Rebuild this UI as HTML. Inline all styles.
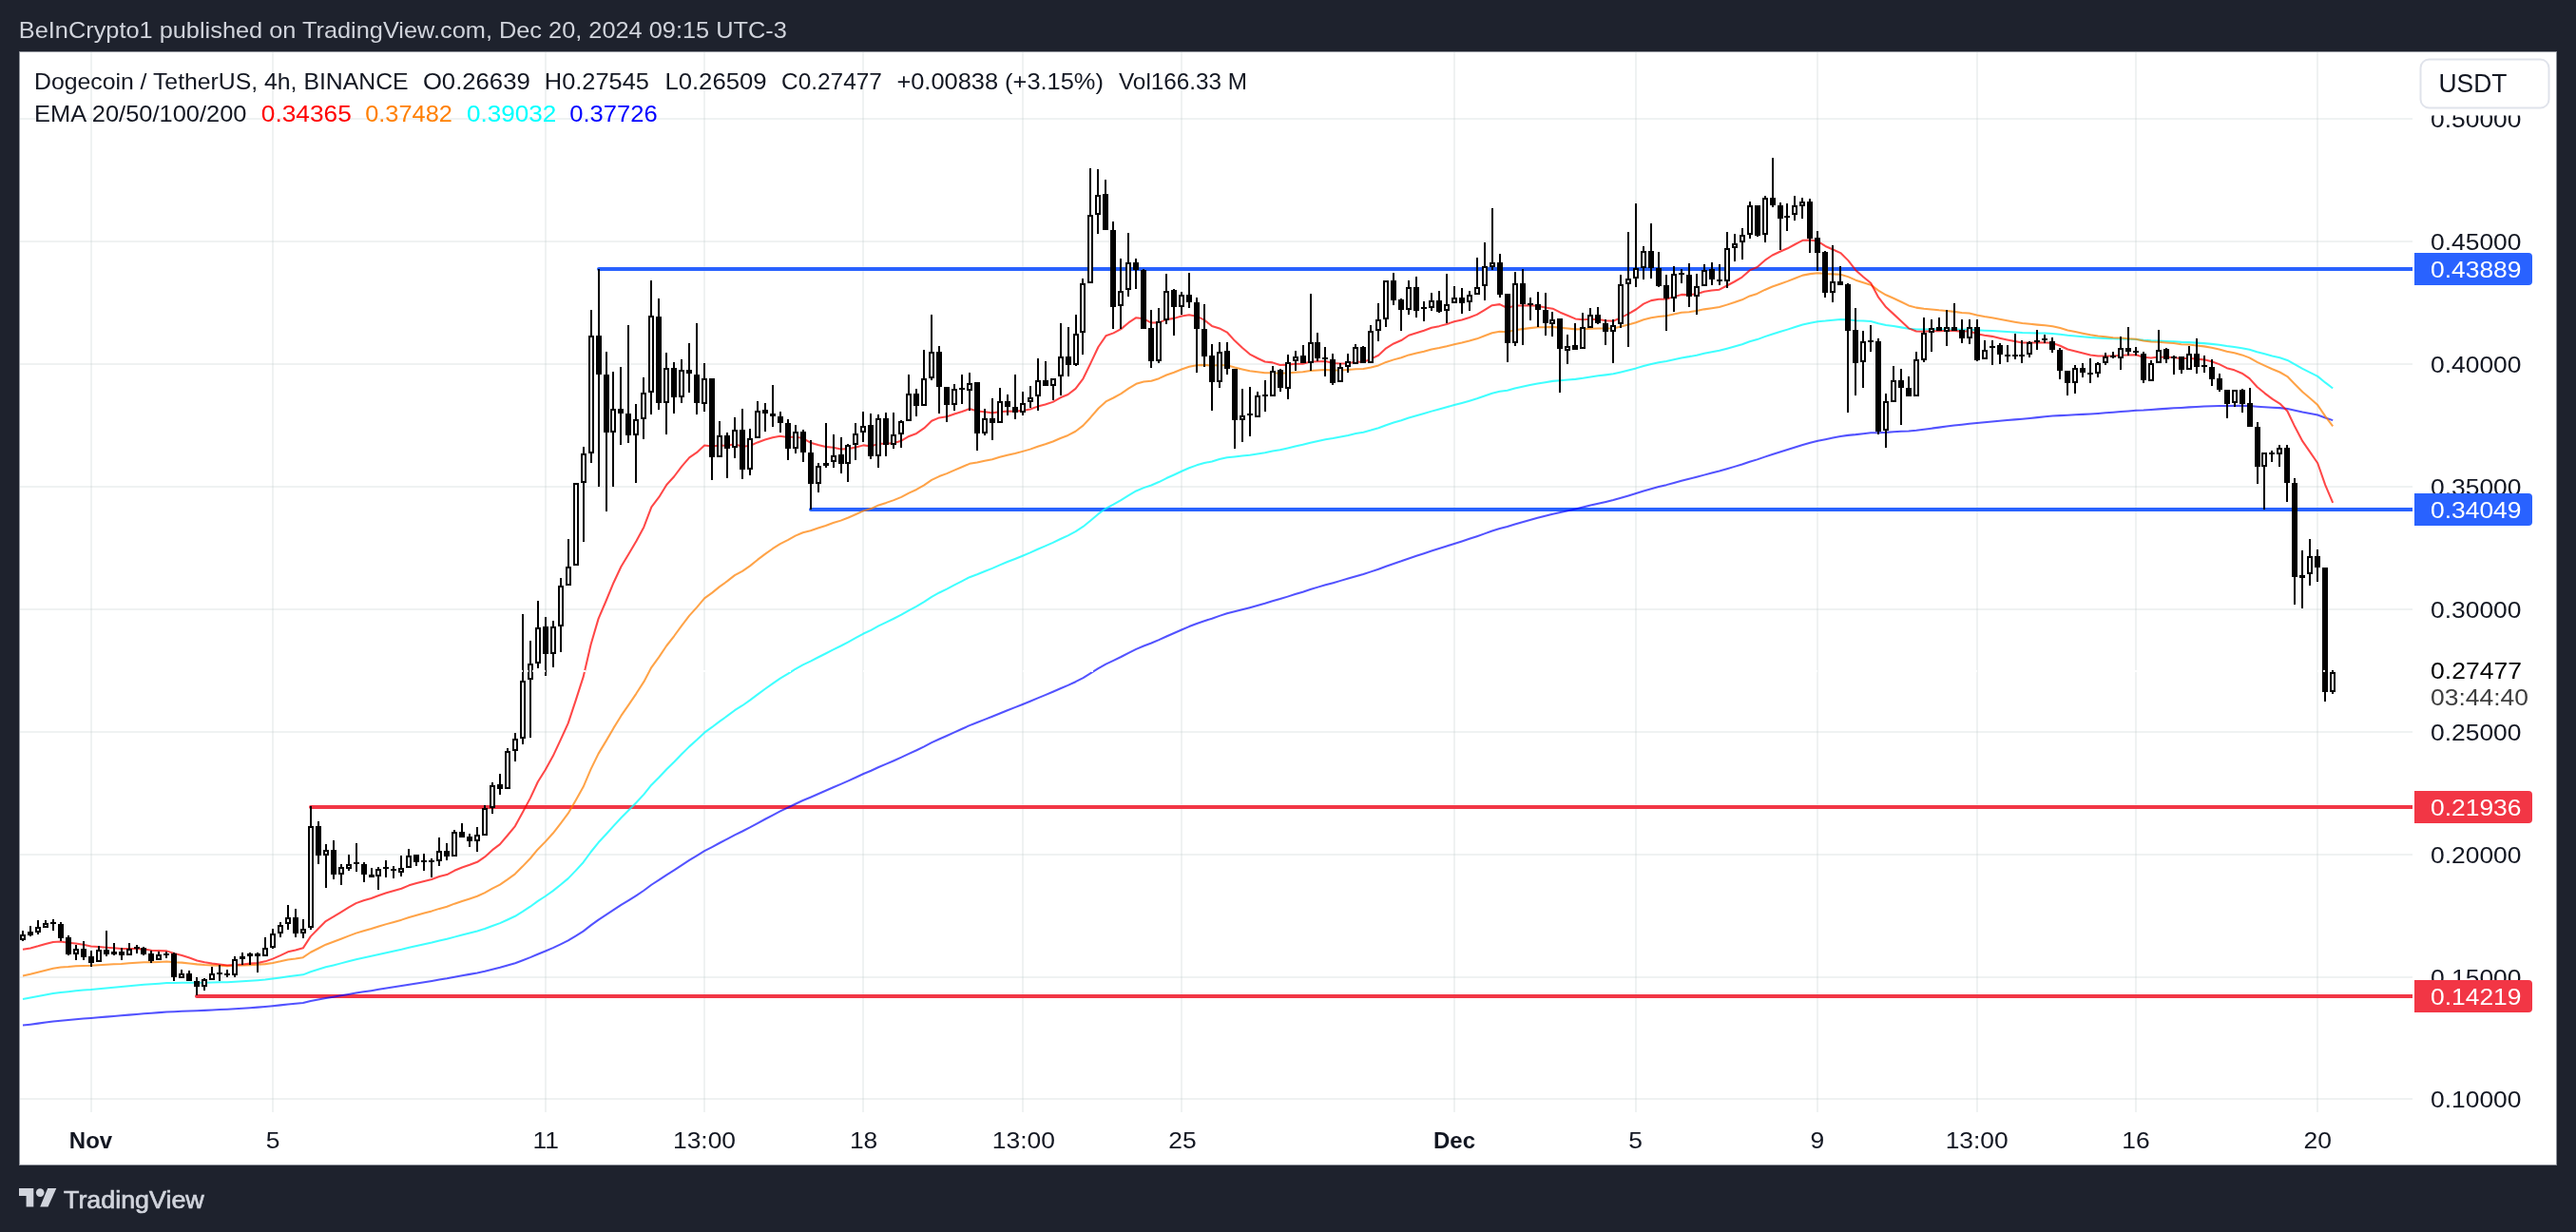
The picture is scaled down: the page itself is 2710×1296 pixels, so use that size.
<!DOCTYPE html><html><head><meta charset="utf-8"><style>html,body{margin:0;padding:0;background:#1e222d;}body{width:2710px;height:1296px;overflow:hidden;}svg{display:block;font-family:"Liberation Sans", sans-serif;will-change:transform;}</style></head><body>
<svg width="2710" height="1296" viewBox="0 0 2710 1296">
<rect x="0" y="0" width="2710" height="1296" fill="#1e222d"/>
<rect x="20" y="54" width="2670" height="1172" fill="#8f939b"/>
<rect x="21" y="55" width="2668" height="1170" fill="#ffffff"/>
<path d="M96 55V1170M287 55V1170M574 55V1170M741 55V1170M908 55V1170M1076 55V1170M1243 55V1170M1530 55V1170M1721 55V1170M1912 55V1170M2080 55V1170M2247 55V1170M2438 55V1170" stroke="rgba(195,205,205,0.26)" stroke-width="2" fill="none"/>
<path d="M21 125H2538M21 254H2538M21 383H2538M21 512H2538M21 641H2538M21 770H2538M21 899H2538M21 1028H2538M21 1156H2538" stroke="rgba(195,205,205,0.26)" stroke-width="2" fill="none"/>
<rect x="630" y="281" width="1908" height="4" fill="#2962ff"/>
<circle cx="630" cy="283" r="2" fill="#2962ff"/>
<rect x="853" y="534" width="1685" height="4" fill="#2962ff"/>
<circle cx="853" cy="536" r="2" fill="#2962ff"/>
<rect x="327" y="847" width="2211" height="4" fill="#f23645"/>
<circle cx="327" cy="849" r="2" fill="#f23645"/>
<rect x="207" y="1046" width="2331" height="4" fill="#f23645"/>
<circle cx="207" cy="1048" r="2" fill="#f23645"/>
<polyline points="24.00,1078.60 31.97,1077.66 39.94,1076.64 47.90,1075.59 55.87,1074.56 63.84,1073.68 71.81,1072.99 79.77,1072.24 87.74,1071.59 95.71,1071.01 103.68,1070.29 111.65,1069.63 119.61,1068.97 127.58,1068.33 135.55,1067.64 143.52,1066.94 151.48,1066.31 159.45,1065.76 167.42,1065.14 175.39,1064.52 183.36,1064.15 191.32,1063.75 199.29,1063.44 207.26,1063.19 215.23,1062.86 223.20,1062.47 231.16,1062.09 239.13,1061.73 247.10,1061.21 255.07,1060.69 263.03,1060.15 271.00,1059.61 278.97,1058.98 286.94,1058.22 294.91,1057.37 302.87,1056.45 310.84,1055.71 318.81,1054.92 326.78,1053.07 334.74,1051.55 342.71,1049.98 350.68,1048.69 358.65,1047.34 366.62,1045.96 374.58,1044.58 382.55,1043.34 390.52,1042.14 398.49,1040.86 406.45,1039.60 414.42,1038.36 422.39,1037.11 430.36,1035.74 438.33,1034.46 446.29,1033.19 454.26,1031.93 462.23,1030.56 470.20,1029.27 478.16,1027.74 486.13,1026.28 494.10,1024.87 502.07,1023.41 510.04,1021.69 518.00,1019.73 525.97,1017.85 533.94,1015.58 541.91,1013.21 549.87,1010.26 557.84,1007.15 565.81,1003.69 573.78,1000.55 581.75,997.15 589.71,993.37 597.68,989.41 605.65,984.62 613.62,979.57 621.59,973.34 629.55,967.57 637.52,962.48 645.49,957.17 653.46,951.98 661.42,947.06 669.39,942.02 677.36,936.76 685.33,930.75 693.30,925.71 701.26,920.35 709.23,915.35 717.20,910.12 725.17,904.98 733.13,900.20 741.10,895.19 749.07,891.07 757.04,886.76 765.01,882.63 772.97,878.34 780.94,874.52 788.91,870.41 796.88,866.05 804.84,861.76 812.81,857.55 820.78,853.44 828.75,849.65 836.72,845.72 844.68,842.03 852.65,838.72 860.62,835.25 868.59,831.81 876.55,828.30 884.52,824.92 892.49,821.37 900.46,817.73 908.43,814.05 916.39,810.72 924.36,807.04 932.33,803.66 940.30,800.22 948.26,796.66 956.23,792.85 964.20,789.21 972.17,785.32 980.14,781.19 988.10,777.47 996.07,773.98 1004.04,770.35 1012.01,766.76 1019.98,763.14 1027.94,760.07 1035.91,756.89 1043.88,753.79 1051.85,750.49 1059.81,747.27 1067.78,744.16 1075.75,740.97 1083.72,737.75 1091.69,734.39 1099.65,731.12 1107.62,727.80 1115.59,724.29 1123.56,720.89 1131.52,717.21 1139.49,713.04 1147.46,708.19 1155.43,703.18 1163.40,698.59 1171.36,694.86 1179.33,690.98 1187.30,686.85 1195.27,682.84 1203.23,679.50 1211.20,676.51 1219.17,673.14 1227.14,669.48 1235.11,666.03 1243.07,662.50 1251.04,659.07 1259.01,655.96 1266.98,653.16 1274.94,650.67 1282.91,647.87 1290.88,645.29 1298.85,643.27 1306.82,641.21 1314.78,639.18 1322.75,636.96 1330.72,634.76 1338.69,632.32 1346.65,630.09 1354.62,627.61 1362.59,625.10 1370.56,622.68 1378.53,620.06 1386.49,617.64 1394.46,615.25 1402.43,613.14 1410.40,610.88 1418.37,608.58 1426.33,606.16 1434.30,603.93 1442.27,601.39 1450.24,598.75 1458.20,595.73 1466.17,592.95 1474.14,590.29 1482.11,587.42 1490.08,584.83 1498.04,582.23 1506.01,579.59 1513.98,577.08 1521.95,574.52 1529.91,571.92 1537.88,569.40 1545.85,566.83 1553.82,564.19 1561.79,561.36 1569.75,558.51 1577.72,556.04 1585.69,554.10 1593.66,551.55 1601.62,549.25 1609.59,546.97 1617.56,544.77 1625.53,542.74 1633.50,540.68 1641.46,538.95 1649.43,537.20 1657.40,535.52 1665.37,533.61 1673.33,531.59 1681.30,529.68 1689.27,527.88 1697.24,526.03 1705.21,523.77 1713.17,521.47 1721.14,519.09 1729.11,516.55 1737.08,514.22 1745.04,512.10 1753.01,510.13 1760.98,507.92 1768.95,505.74 1776.92,503.82 1784.88,501.79 1792.85,499.62 1800.82,497.58 1808.79,495.58 1816.76,493.24 1824.72,490.88 1832.69,488.45 1840.66,485.75 1848.63,483.38 1856.59,480.64 1864.56,478.01 1872.53,475.53 1880.50,473.07 1888.47,470.52 1896.43,467.95 1904.40,465.79 1912.37,463.80 1920.34,462.25 1928.30,460.60 1936.27,459.00 1944.24,457.89 1952.21,457.13 1960.18,456.16 1968.14,455.20 1976.11,455.18 1984.08,454.86 1992.05,454.31 2000.01,453.85 2007.98,453.48 2015.95,452.74 2023.92,451.72 2031.89,450.66 2039.85,449.63 2047.82,448.58 2055.79,447.58 2063.76,446.67 2071.72,445.65 2079.69,444.99 2087.66,444.22 2095.63,443.43 2103.60,442.72 2111.56,442.04 2119.53,441.37 2127.50,440.71 2135.47,439.90 2143.43,439.11 2151.40,438.30 2159.37,437.60 2167.34,437.13 2175.31,436.80 2183.27,436.31 2191.24,435.86 2199.21,435.44 2207.18,434.91 2215.14,434.31 2223.11,433.73 2231.08,433.06 2239.05,432.44 2247.02,431.82 2254.98,431.51 2262.95,431.02 2270.92,430.39 2278.89,429.87 2286.86,429.34 2294.82,428.94 2302.79,428.38 2310.76,427.96 2318.73,427.53 2326.69,427.25 2334.66,427.07 2342.63,427.06 2350.60,426.89 2358.57,426.87 2366.53,427.09 2374.50,427.73 2382.47,428.21 2390.44,428.70 2398.40,429.12 2406.37,429.90 2414.34,431.67 2422.31,433.42 2430.28,434.92 2438.24,436.54 2446.21,439.44 2454.18,442.10" fill="none" stroke="rgba(0,0,255,0.68)" stroke-width="2.05" stroke-linejoin="round"/>
<polyline points="24.00,1050.90 31.97,1049.58 39.94,1048.11 47.90,1046.59 55.87,1045.10 63.84,1043.94 71.81,1043.15 79.77,1042.26 87.74,1041.56 95.71,1040.98 103.68,1040.16 111.65,1039.43 119.61,1038.73 127.58,1038.05 135.55,1037.26 143.52,1036.48 151.48,1035.84 159.45,1035.34 167.42,1034.71 175.39,1034.08 183.36,1033.95 191.32,1033.74 199.29,1033.72 207.26,1033.80 215.23,1033.73 223.20,1033.55 231.16,1033.35 239.13,1033.21 247.10,1032.73 255.07,1032.27 263.03,1031.75 271.00,1031.24 278.97,1030.56 286.94,1029.60 294.91,1028.47 302.87,1027.21 310.84,1026.32 318.81,1025.34 326.78,1022.25 334.74,1019.83 342.71,1017.33 350.68,1015.41 358.65,1013.37 366.62,1011.30 374.58,1009.24 382.55,1007.48 390.52,1005.80 398.49,1003.98 406.45,1002.19 414.42,1000.46 422.39,998.73 430.36,996.77 438.33,994.99 446.29,993.24 454.26,991.52 462.23,989.60 470.20,987.85 478.16,985.62 486.13,983.54 494.10,981.58 502.07,979.54 510.04,976.98 518.00,973.98 525.97,971.14 533.94,967.55 541.91,963.77 549.87,958.87 557.84,953.71 565.81,947.88 573.78,942.74 581.75,937.13 589.71,930.78 597.68,924.14 605.65,915.91 613.62,907.22 621.59,896.24 629.55,886.30 637.52,877.77 645.49,868.89 653.46,860.30 661.42,852.32 669.39,844.18 677.36,835.64 685.33,825.68 693.30,817.73 701.26,809.20 709.23,801.46 717.20,793.30 725.17,785.38 733.13,778.23 741.10,770.69 749.07,764.95 757.04,758.88 765.01,753.19 772.97,747.22 780.94,742.22 788.91,736.66 796.88,730.61 804.84,724.77 812.81,719.09 820.78,713.67 828.75,708.89 836.72,703.85 844.68,699.33 852.65,695.56 860.62,691.48 868.59,687.48 876.55,683.36 884.52,679.50 892.49,675.32 900.46,670.97 908.43,666.54 916.39,662.84 924.36,658.44 932.33,654.66 940.30,650.76 948.26,646.65 956.23,642.03 964.20,637.78 972.17,633.03 980.14,627.83 988.10,623.46 996.07,619.56 1004.04,615.40 1012.01,611.32 1019.98,607.19 1027.94,604.18 1035.91,600.94 1043.88,597.86 1051.85,594.37 1059.81,591.06 1067.78,587.95 1075.75,584.70 1083.72,581.39 1091.69,577.79 1099.65,574.39 1107.62,570.89 1115.59,567.00 1123.56,563.37 1131.52,559.16 1139.49,553.98 1147.46,547.48 1155.43,540.69 1163.40,534.79 1171.36,530.60 1179.33,526.14 1187.30,521.18 1195.27,516.48 1203.23,513.12 1211.20,510.47 1219.17,507.05 1227.14,503.06 1235.11,499.49 1243.07,495.75 1251.04,492.24 1259.01,489.35 1266.98,487.08 1274.94,485.40 1282.91,483.11 1290.88,481.23 1298.85,480.46 1306.82,479.59 1314.78,478.74 1322.75,477.51 1330.72,476.30 1338.69,474.58 1346.65,473.26 1354.62,471.43 1362.59,469.52 1370.56,467.79 1378.53,465.65 1386.49,463.88 1394.46,462.18 1402.43,461.00 1410.40,459.52 1418.37,457.94 1426.33,456.11 1434.30,454.64 1442.27,452.54 1450.24,450.24 1458.20,447.17 1466.17,444.57 1474.14,442.21 1482.11,439.44 1490.08,437.21 1498.04,434.96 1506.01,432.62 1513.98,430.54 1521.95,428.35 1529.91,426.07 1537.88,423.95 1545.85,421.70 1553.82,419.33 1561.79,416.56 1569.75,413.77 1577.72,411.71 1585.69,410.71 1593.66,408.47 1601.62,406.73 1609.59,405.02 1617.56,403.45 1625.53,402.20 1633.50,400.88 1641.46,400.21 1649.43,399.49 1657.40,398.86 1665.37,397.76 1673.33,396.43 1681.30,395.31 1689.27,394.39 1697.24,393.35 1705.21,391.49 1713.17,389.53 1721.14,387.39 1729.11,384.96 1737.08,382.93 1745.04,381.31 1753.01,379.98 1760.98,378.16 1768.95,376.39 1776.92,375.12 1784.88,373.64 1792.85,371.86 1800.82,370.32 1808.79,368.86 1816.76,366.72 1824.72,364.52 1832.69,362.20 1840.66,359.31 1848.63,357.10 1856.59,354.14 1864.56,351.41 1872.53,349.00 1880.50,346.61 1888.47,344.03 1896.43,341.43 1904.40,339.64 1912.37,338.17 1920.34,337.56 1928.30,336.75 1936.27,336.02 1944.24,336.25 1952.21,337.15 1960.18,337.59 1968.14,338.03 1976.11,340.32 1984.08,341.94 1992.05,343.08 2000.01,344.37 2007.98,345.81 2015.95,346.46 2023.92,346.54 2031.89,346.51 2039.85,346.53 2047.82,346.48 2055.79,346.51 2063.76,346.71 2071.72,346.66 2079.69,347.29 2087.66,347.70 2095.63,348.03 2103.60,348.52 2111.56,349.03 2119.53,349.53 2127.50,350.04 2135.47,350.23 2143.43,350.43 2151.40,350.57 2159.37,350.92 2167.34,351.70 2175.31,352.73 2183.27,353.41 2191.24,354.17 2199.21,354.94 2207.18,355.48 2215.14,355.88 2223.11,356.26 2231.08,356.46 2239.05,356.74 2247.02,357.01 2254.98,357.87 2262.95,358.36 2270.92,358.54 2278.89,358.93 2286.86,359.28 2294.82,359.87 2302.79,360.12 2310.76,360.64 2318.73,361.13 2326.69,361.87 2334.66,362.82 2342.63,364.06 2350.60,364.97 2358.57,366.16 2366.53,367.80 2374.50,370.25 2382.47,372.35 2390.44,374.44 2398.40,376.34 2406.37,378.94 2414.34,383.46 2422.31,387.90 2430.28,391.80 2438.24,395.87 2446.21,402.44 2454.18,408.47" fill="none" stroke="rgba(0,255,255,0.75)" stroke-width="2.05" stroke-linejoin="round"/>
<polyline points="24.00,1026.40 31.97,1024.74 39.94,1022.80 47.90,1020.78 55.87,1018.85 63.84,1017.59 71.81,1017.05 79.77,1016.31 87.74,1015.94 95.71,1015.81 103.68,1015.16 111.65,1014.70 119.61,1014.28 127.58,1013.90 135.55,1013.29 143.52,1012.67 151.48,1012.34 159.45,1012.28 167.42,1011.93 175.39,1011.57 183.36,1012.20 191.32,1012.64 199.29,1013.41 207.26,1014.39 215.23,1015.01 223.20,1015.38 231.16,1015.69 239.13,1016.11 247.10,1015.83 255.07,1015.57 263.03,1015.20 271.00,1014.85 278.97,1014.13 286.94,1012.89 294.91,1011.31 302.87,1009.48 310.84,1008.42 318.81,1007.17 326.78,1001.76 334.74,997.78 342.71,993.69 350.68,990.82 358.65,987.75 366.62,984.65 374.58,981.61 382.55,979.21 390.52,976.99 398.49,974.51 406.45,972.12 414.42,969.89 422.39,967.65 430.36,964.98 438.33,962.71 446.29,960.51 454.26,958.39 462.23,955.89 470.20,953.74 478.16,950.66 486.13,947.92 494.10,945.44 502.07,942.80 510.04,939.17 518.00,934.71 525.97,930.63 533.94,925.11 541.91,919.30 549.87,911.34 557.84,902.97 565.81,893.42 573.78,885.38 581.75,876.51 589.71,866.32 597.68,855.70 605.65,842.08 613.62,827.78 621.59,809.15 629.55,792.87 637.52,779.63 645.49,765.90 653.46,752.92 661.42,741.34 669.39,729.57 677.36,717.16 685.33,702.07 693.30,691.18 701.26,679.25 709.23,669.02 717.20,658.05 725.17,647.67 733.13,638.91 741.10,629.45 749.07,623.61 757.04,617.14 765.01,611.42 772.97,605.16 780.94,600.82 788.91,595.35 796.88,588.93 804.84,582.91 812.81,577.23 820.78,572.05 828.75,568.14 836.72,563.67 844.68,560.22 852.65,558.22 860.62,555.53 868.59,552.94 876.55,550.04 884.52,547.63 892.49,544.52 900.46,541.03 908.43,537.37 916.39,535.11 924.36,531.40 932.33,528.90 940.30,526.10 948.26,522.85 956.23,518.56 964.20,514.98 972.17,510.39 980.14,504.90 988.10,501.07 996.07,498.14 1004.04,494.66 1012.01,491.32 1019.98,487.84 1027.94,486.58 1035.91,484.77 1043.88,483.21 1051.85,480.80 1059.81,478.71 1067.78,476.96 1075.75,474.87 1083.72,472.63 1091.69,469.76 1099.65,467.26 1107.62,464.53 1115.59,461.00 1123.56,457.96 1131.52,453.76 1139.49,447.64 1147.46,438.94 1155.43,429.75 1163.40,422.41 1171.36,418.51 1179.33,414.08 1187.30,408.65 1195.27,403.77 1203.23,401.52 1211.20,400.66 1219.17,398.18 1227.14,394.55 1235.11,391.74 1243.07,388.55 1251.04,385.81 1259.01,384.26 1266.98,383.89 1274.94,384.61 1282.91,384.02 1290.88,384.19 1298.85,386.47 1306.82,388.44 1314.78,390.33 1322.75,391.35 1330.72,392.33 1338.69,392.22 1346.65,392.85 1354.62,392.37 1362.59,391.68 1370.56,391.32 1378.53,390.07 1386.49,389.54 1394.46,389.08 1402.43,389.61 1410.40,389.48 1418.37,389.10 1426.33,388.16 1434.30,387.93 1442.27,386.39 1450.24,384.43 1458.20,380.93 1466.17,378.37 1474.14,376.29 1482.11,373.39 1490.08,371.56 1498.04,369.70 1506.01,367.61 1513.98,366.04 1521.95,364.23 1529.91,362.23 1537.88,360.54 1545.85,358.58 1553.82,356.35 1561.79,353.33 1569.75,350.28 1577.72,348.69 1585.69,349.19 1593.66,347.17 1601.62,346.12 1609.59,345.12 1617.56,344.35 1625.53,344.19 1633.50,343.86 1641.46,344.77 1649.43,345.51 1657.40,346.38 1665.37,346.27 1673.33,345.66 1681.30,345.42 1689.27,345.55 1697.24,345.41 1705.21,343.60 1713.17,341.60 1721.14,339.25 1729.11,336.32 1737.08,334.21 1745.04,332.91 1753.01,332.18 1760.98,330.45 1768.95,328.81 1776.92,328.16 1784.88,327.08 1792.85,325.37 1800.82,324.15 1808.79,323.06 1816.76,320.62 1824.72,318.07 1832.69,315.30 1840.66,311.42 1848.63,308.93 1856.59,304.95 1864.56,301.48 1872.53,298.66 1880.50,295.90 1888.47,292.78 1896.43,289.63 1904.40,288.12 1912.37,287.24 1920.34,288.03 1928.30,288.36 1936.27,288.82 1944.24,291.12 1952.21,294.68 1960.18,297.22 1968.14,299.66 1976.11,305.69 1984.08,310.27 1992.05,313.77 2000.01,317.47 2007.98,321.39 2015.95,323.62 2023.92,324.68 2031.89,325.47 2039.85,326.35 2047.82,327.04 2055.79,327.86 2063.76,328.98 2071.72,329.58 2079.69,331.50 2087.66,332.93 2095.63,334.17 2103.60,335.67 2111.56,337.18 2119.53,338.64 2127.50,340.08 2135.47,340.85 2143.43,341.62 2151.40,342.24 2159.37,343.26 2167.34,345.11 2175.31,347.39 2183.27,348.96 2191.24,350.63 2199.21,352.30 2207.18,353.48 2215.14,354.33 2223.11,355.16 2231.08,355.60 2239.05,356.18 2247.02,356.75 2254.98,358.46 2262.95,359.40 2270.92,359.72 2278.89,360.43 2286.86,361.08 2294.82,362.17 2302.79,362.58 2310.76,363.51 2318.73,364.37 2326.69,365.71 2334.66,367.45 2342.63,369.72 2350.60,371.30 2358.57,373.40 2366.53,376.37 2374.50,380.88 2382.47,384.62 2390.44,388.27 2398.40,391.51 2406.37,396.05 2414.34,404.33 2422.31,412.31 2430.28,419.07 2438.24,426.06 2446.21,437.89 2454.18,448.45" fill="none" stroke="rgba(255,127,0,0.72)" stroke-width="2.05" stroke-linejoin="round"/>
<polyline points="24.00,998.80 31.97,997.40 39.94,995.30 47.90,993.01 55.87,990.96 63.84,990.56 71.81,991.82 79.77,992.43 87.74,993.79 95.71,995.58 103.68,995.95 111.65,996.67 119.61,997.35 127.58,998.04 135.55,998.06 143.52,998.02 151.48,998.61 159.45,999.77 167.42,1000.12 175.39,1000.37 183.36,1002.95 191.32,1004.91 199.29,1007.53 207.26,1010.45 215.23,1012.33 223.20,1013.48 231.16,1014.43 239.13,1015.55 247.10,1014.95 255.07,1014.40 263.03,1013.61 271.00,1012.90 278.97,1011.35 286.94,1008.60 294.91,1005.17 302.87,1001.30 310.84,999.50 318.81,997.32 326.78,985.12 334.74,977.04 342.71,969.10 350.68,964.46 358.65,959.51 366.62,954.68 374.58,950.14 382.55,947.31 390.52,944.97 398.49,941.99 406.45,939.28 414.42,936.99 422.39,934.68 430.36,931.35 438.33,929.03 446.29,926.89 454.26,924.95 462.23,922.07 470.20,920.06 478.16,915.79 486.13,912.45 494.10,909.81 502.07,906.80 510.04,901.41 518.00,894.18 525.97,888.11 533.94,878.77 541.91,869.06 549.87,854.53 557.84,839.61 565.81,822.46 573.78,809.68 581.75,795.36 589.71,778.33 597.68,760.91 605.65,736.87 613.62,712.15 621.59,677.92 629.55,650.90 637.52,632.26 645.49,612.95 653.46,596.00 661.42,582.81 669.39,569.33 677.36,554.45 685.33,533.31 693.30,522.94 701.26,509.97 709.23,501.25 717.20,490.60 725.17,481.34 733.13,475.91 741.10,468.44 749.07,469.61 757.04,468.54 765.01,468.82 772.97,467.19 780.94,469.79 788.91,468.99 796.88,465.43 804.84,462.57 812.81,460.24 820.78,458.81 828.75,460.08 836.72,459.53 844.68,461.06 852.65,465.64 860.62,467.93 868.59,469.98 876.55,470.85 884.52,472.53 892.49,472.13 900.46,470.56 908.43,468.37 916.39,469.46 924.36,466.69 932.33,466.80 940.30,465.90 948.26,463.74 956.23,458.95 964.20,455.95 972.17,450.40 980.14,442.78 988.10,439.41 996.07,438.17 1004.04,435.43 1012.01,432.96 1019.98,430.07 1027.94,432.49 1035.91,433.26 1043.88,434.38 1051.85,433.18 1059.81,432.64 1067.78,432.77 1075.75,431.89 1083.72,430.55 1091.69,427.60 1099.65,425.53 1107.62,422.88 1115.59,418.28 1123.56,414.97 1131.52,408.86 1139.49,398.28 1147.46,381.83 1155.43,364.96 1163.40,353.30 1171.36,350.41 1179.33,346.14 1187.30,339.44 1195.27,334.16 1203.23,335.32 1211.20,339.54 1219.17,339.36 1227.14,336.13 1235.11,334.88 1243.07,332.55 1251.04,331.21 1259.01,332.66 1266.98,336.66 1274.94,342.91 1282.91,345.45 1290.88,349.54 1298.85,358.37 1306.82,365.83 1314.78,372.57 1322.75,376.74 1330.72,380.51 1338.69,381.38 1346.65,383.93 1354.62,383.61 1362.59,382.79 1370.56,382.75 1378.53,380.53 1386.49,380.16 1394.46,379.93 1402.43,382.09 1410.40,382.49 1418.37,382.24 1426.33,380.61 1434.30,380.77 1442.27,377.70 1450.24,373.77 1458.20,366.28 1466.17,361.46 1474.14,358.03 1482.11,352.73 1490.08,350.25 1498.04,347.75 1506.01,344.77 1513.98,343.13 1521.95,340.91 1529.91,338.29 1537.88,336.46 1545.85,333.98 1553.82,330.91 1561.79,326.01 1569.75,321.21 1577.72,320.12 1585.69,324.04 1593.66,321.53 1601.62,321.42 1609.59,321.34 1617.56,321.74 1625.53,323.51 1633.50,324.67 1641.46,328.71 1649.43,332.04 1657.40,335.43 1665.37,336.22 1673.33,335.68 1681.30,336.05 1689.27,337.26 1697.24,337.71 1705.21,334.06 1713.17,330.11 1721.14,325.49 1729.11,319.68 1737.08,316.13 1745.04,314.70 1753.01,314.66 1760.98,312.12 1768.95,309.89 1776.92,310.11 1784.88,309.21 1792.85,306.77 1800.82,305.58 1808.79,304.71 1816.76,300.52 1824.72,296.25 1832.69,291.59 1840.66,284.43 1848.63,280.95 1856.59,273.95 1864.56,268.47 1872.53,264.76 1880.50,261.30 1888.47,257.02 1896.43,252.78 1904.40,252.60 1912.37,253.85 1920.34,258.96 1928.30,262.52 1936.27,266.09 1944.24,273.86 1952.21,284.14 1960.18,291.30 1968.14,297.80 1976.11,312.64 1984.08,323.09 1992.05,330.38 2000.01,337.78 2007.98,345.35 2015.95,348.50 2023.92,348.69 2031.89,348.32 2039.85,348.28 2047.82,347.87 2055.79,347.88 2063.76,348.69 2071.72,348.27 2079.69,351.17 2087.66,352.76 2095.63,353.87 2103.60,355.65 2111.56,357.41 2119.53,359.03 2127.50,360.58 2135.47,360.51 2143.43,360.50 2151.40,360.22 2159.37,360.98 2167.34,363.77 2175.31,367.53 2183.27,369.43 2191.24,371.54 2199.21,373.60 2207.18,374.43 2215.14,374.51 2223.11,374.60 2231.08,373.83 2239.05,373.50 2247.02,373.22 2254.98,375.80 2262.95,376.44 2270.92,375.60 2278.89,375.82 2286.86,375.91 2294.82,377.17 2302.79,376.72 2310.76,377.64 2318.73,378.37 2326.69,380.30 2334.66,383.13 2342.63,387.15 2350.60,389.33 2358.57,392.71 2366.53,398.10 2374.50,406.98 2382.47,413.57 2390.44,419.68 2398.40,424.54 2406.37,432.44 2414.34,449.09 2422.31,464.18 2430.28,475.67 2438.24,487.25 2446.21,510.16 2454.18,528.91" fill="none" stroke="rgba(255,0,0,0.72)" stroke-width="2.05" stroke-linejoin="round"/>
<path d="M24 979V990M32 974V985M40 968V983M48 968V976M56 967V979M64 970V990M72 984V1005M80 994V1010M88 990V1010M96 1000V1017M104 995V1012M112 979V1006M120 992V1005M128 997V1010M136 992V1005M144 994V1003M151 996V1005M159 1000V1013M167 1001V1010M175 1001V1008M183 1002V1032M191 1020V1027M199 1021V1032M207 1028V1047M215 1029V1042M223 1017V1031M231 1015V1032M239 1020V1028M247 1006V1028M255 1002V1015M263 1002V1015M271 1002V1023M279 986V1006M287 977V998M295 970V986M303 952V978M311 956V986M319 967V987M327 848V978M335 864V909M343 888V934M351 884V925M359 909V931M367 899V916M375 887V917M383 907V928M391 913V923M398 912V936M406 905V923M414 911V924M422 900V922M430 893V913M438 899V911M446 898V916M454 903V923M462 881V911M470 887V905M478 873V901M486 866V881M494 877V891M502 870V896M510 847V879M518 823V856M526 814V836M534 787V830M542 771V801M550 646V783M558 674V776M566 632V703M574 649V711M582 653V702M590 608V686M598 567V616M606 508V595M614 470V570M622 326V487M630 283V512M638 370V538M645 391V512M653 386V468M661 342V466M669 425V508M677 397V462M685 295V436M693 314V431M701 371V457M709 381V435M717 378V424M725 361V413M733 340V436M741 382V433M749 398V505M757 443V481M765 455V503M773 439V482M781 430V504M789 451V500M797 422V461M805 424V454M813 405V449M821 433V455M829 441V484M837 447V477M845 452V486M853 463V536M861 487V518M869 445V492M877 457V492M885 460V498M892 467V507M900 445V484M908 433V465M916 435V483M924 436V492M932 434V480M940 434V472M948 442V471M956 394V443M964 409V438M972 368V427M980 331V400M988 364V435M996 407V444M1004 404V432M1012 394V425M1020 392V432M1028 402V474M1036 430V458M1044 419V463M1052 408V445M1060 415V437M1068 394V441M1076 412V437M1084 406V429M1092 377V432M1100 380V406M1108 398V421M1116 340V416M1124 344V396M1132 331V385M1139 293V373M1147 177V298M1155 178V246M1163 189V242M1171 233V346M1179 272V346M1187 245V312M1195 272V304M1203 283V346M1211 326V387M1219 324V382M1227 288V341M1235 304V353M1243 307V331M1251 287V324M1259 313V392M1267 320V386M1275 362V432M1283 360V408M1291 360V394M1299 388V472M1307 409V465M1315 407V459M1323 412V439M1331 400V433M1339 385V417M1347 388V412M1355 373V420M1363 369V390M1371 363V382M1379 309V390M1386 350V380M1394 365V396M1402 372V405M1410 382V402M1418 372V392M1426 362V383M1434 364V382M1442 342V382M1450 319V359M1458 295V344M1466 287V321M1474 314V348M1482 295V331M1490 291V334M1498 317V338M1506 308V327M1514 306V329M1522 288V340M1530 301V319M1538 303V330M1546 306V327M1554 271V310M1562 255V316M1570 219V284M1578 267V313M1586 309V381M1594 286V364M1602 283V363M1610 313V337M1618 307V344M1626 308V353M1633 328V354M1641 335V413M1649 352V383M1657 340V368M1665 329V367M1673 324V345M1681 323V341M1689 336V363M1697 336V382M1705 289V345M1713 244V365M1721 214V302M1729 259V294M1737 235V293M1745 265V302M1753 289V348M1761 280V328M1769 283V298M1777 277V323M1785 288V331M1793 278V301M1801 276V300M1809 278V300M1817 244V303M1825 246V275M1833 240V273M1841 212V251M1849 216V249M1857 206V255M1865 166V218M1873 213V263M1880 214V243M1888 206V232M1896 208V230M1904 209V266M1912 243V285M1920 264V313M1928 258V318M1936 280V300M1944 298V434M1952 324V416M1960 348V408M1968 342V370M1976 356V457M1984 414V471M1992 385V423M2000 388V447M2008 396V417M2016 370V417M2024 334V381M2032 336V370M2040 334V348M2048 326V364M2056 319V348M2064 336V361M2072 336V362M2080 336V380M2088 358V378M2096 358V384M2104 361V383M2112 363V381M2120 351V378M2127 358V382M2135 359V376M2143 347V368M2151 352V361M2159 355V371M2167 366V399M2175 390V416M2183 384V414M2191 382V397M2199 377V403M2207 381V397M2215 371V384M2223 370V377M2231 354V389M2239 344V374M2247 365V374M2255 370V403M2263 379V401M2271 347V382M2279 366V382M2287 374V394M2295 375V393M2303 364V389M2311 356V393M2319 374V392M2327 378V406M2335 393V412M2343 410V440M2351 410V428M2359 409V434M2367 408V449M2375 444V509M2382 476V536M2390 474V486M2398 468V491M2406 468V528M2414 503V636M2422 579V640M2430 567V616M2438 578V612M2446 597V738M2454 705V730" stroke="#000" stroke-width="2" fill="none"/>
<path d="M29 980h6v4h-6zM53 970h6v2h-6zM61 972h6v15h-6zM69 986h6v18h-6zM85 998h6v9h-6zM93 1006h6v7h-6zM109 999h6v5h-6zM117 1001h6v3h-6zM125 1001h6v4h-6zM141 996h6v2h-6zM148 997h6v7h-6zM156 1003h6v8h-6zM180 1003h6v25h-6zM196 1024h6v8h-6zM204 1032h6v6h-6zM228 1023h6v2h-6zM236 1024h6v2h-6zM252 1006h6v3h-6zM260 1003h6v3h-6zM268 1003h6v3h-6zM308 965h6v17h-6zM332 869h6v31h-6zM348 894h6v26h-6zM380 909h6v11h-6zM388 920h6v3h-6zM403 912h6v2h-6zM411 914h6v2h-6zM435 899h6v8h-6zM443 905h6v2h-6zM451 905h6v2h-6zM467 895h6v6h-6zM483 875h6v6h-6zM491 880h6v5h-6zM523 825h6v5h-6zM571 659h6v29h-6zM627 353h6v41h-6zM635 394h6v61h-6zM650 430h6v5h-6zM658 435h6v23h-6zM690 333h6v91h-6zM706 387h6v31h-6zM722 389h6v4h-6zM730 394h6v30h-6zM746 398h6v83h-6zM762 458h6v14h-6zM778 452h6v42h-6zM802 431h6v4h-6zM810 435h6v3h-6zM818 438h6v7h-6zM826 445h6v27h-6zM842 454h6v22h-6zM850 476h6v33h-6zM866 487h6v3h-6zM882 478h6v10h-6zM913 447h6v33h-6zM929 440h6v28h-6zM961 414h6v13h-6zM985 370h6v37h-6zM993 407h6v19h-6zM1009 408h6v2h-6zM1025 402h6v54h-6zM1041 440h6v5h-6zM1057 422h6v6h-6zM1065 428h6v6h-6zM1097 400h6v6h-6zM1121 375h6v9h-6zM1160 204h6v38h-6zM1168 242h6v81h-6zM1192 276h6v8h-6zM1200 284h6v62h-6zM1208 345h6v35h-6zM1232 305h6v18h-6zM1248 310h6v8h-6zM1256 318h6v28h-6zM1264 346h6v29h-6zM1272 374h6v28h-6zM1288 369h6v19h-6zM1296 388h6v54h-6zM1312 435h6v2h-6zM1328 415h6v2h-6zM1344 389h6v19h-6zM1368 374h6v8h-6zM1383 360h6v17h-6zM1391 376h6v2h-6zM1399 378h6v25h-6zM1431 365h6v17h-6zM1463 295h6v21h-6zM1471 315h6v11h-6zM1487 302h6v25h-6zM1495 323h6v2h-6zM1511 316h6v12h-6zM1535 313h6v6h-6zM1575 276h6v34h-6zM1583 309h6v52h-6zM1599 298h6v22h-6zM1607 319h6v2h-6zM1615 320h6v6h-6zM1623 326h6v14h-6zM1638 335h6v32h-6zM1654 363h6v5h-6zM1678 331h6v9h-6zM1686 340h6v9h-6zM1734 264h6v18h-6zM1742 282h6v19h-6zM1750 300h6v14h-6zM1766 287h6v2h-6zM1774 289h6v23h-6zM1798 283h6v11h-6zM1806 294h6v2h-6zM1846 216h6v32h-6zM1862 208h6v8h-6zM1870 216h6v14h-6zM1877 227h6v2h-6zM1901 212h6v39h-6zM1909 250h6v16h-6zM1917 265h6v43h-6zM1933 296h6v4h-6zM1941 299h6v49h-6zM1949 347h6v35h-6zM1965 358h6v2h-6zM1973 359h6v95h-6zM1997 400h6v8h-6zM2005 408h6v9h-6zM2037 344h6v4h-6zM2053 344h6v4h-6zM2061 347h6v9h-6zM2077 344h6v35h-6zM2101 363h6v10h-6zM2109 373h6v2h-6zM2117 373h6v2h-6zM2124 373h6v2h-6zM2140 358h6v2h-6zM2148 356h6v2h-6zM2156 359h6v9h-6zM2164 368h6v22h-6zM2172 390h6v13h-6zM2188 387h6v5h-6zM2196 392h6v2h-6zM2220 374h6v2h-6zM2236 366h6v4h-6zM2244 369h6v2h-6zM2252 372h6v28h-6zM2276 367h6v11h-6zM2284 375h6v2h-6zM2292 375h6v14h-6zM2308 372h6v14h-6zM2316 384h6v2h-6zM2324 386h6v13h-6zM2332 398h6v12h-6zM2340 410h6v15h-6zM2356 410h6v15h-6zM2364 424h6v25h-6zM2372 449h6v42h-6zM2387 476h6v2h-6zM2403 471h6v37h-6zM2411 508h6v99h-6zM2419 605h6v3h-6zM2435 585h6v12h-6zM2443 597h6v131h-6z" fill="#000"/>
<path d="M21 983h6v6h-6zM37 975h6v6h-6zM45 971h6v5h-6zM77 998h6v6h-6zM101 999h6v13h-6zM133 998h6v7h-6zM164 1004h6v6h-6zM172 1003h6v2h-6zM188 1024h6v5h-6zM212 1030h6v8h-6zM220 1024h6v7h-6zM244 1009h6v17h-6zM276 997h6v9h-6zM284 982h6v15h-6zM292 973h6v9h-6zM300 965h6v7h-6zM316 977h6v5h-6zM324 869h6v107h-6zM340 894h6v6h-6zM356 912h6v8h-6zM364 909h6v5h-6zM372 907h6v2h-6zM395 914h6v8h-6zM419 913h6v5h-6zM427 900h6v13h-6zM459 895h6v11h-6zM475 875h6v26h-6zM499 878h6v7h-6zM507 850h6v29h-6zM515 826h6v24h-6zM531 790h6v40h-6zM539 777h6v13h-6zM547 716h6v61h-6zM555 698h6v17h-6zM563 660h6v38h-6zM579 659h6v29h-6zM587 616h6v43h-6zM595 596h6v20h-6zM603 508h6v87h-6zM611 477h6v31h-6zM619 353h6v124h-6zM642 430h6v25h-6zM666 441h6v17h-6zM674 413h6v28h-6zM682 332h6v81h-6zM698 387h6v37h-6zM714 389h6v29h-6zM738 398h6v27h-6zM754 458h6v23h-6zM770 452h6v19h-6zM786 461h6v33h-6zM794 432h6v29h-6zM834 454h6v18h-6zM858 490h6v19h-6zM874 479h6v7h-6zM889 468h6v20h-6zM897 456h6v12h-6zM905 448h6v7h-6zM921 440h6v40h-6zM937 457h6v11h-6zM945 443h6v14h-6zM953 414h6v29h-6zM969 398h6v29h-6zM977 370h6v28h-6zM1001 409h6v17h-6zM1017 403h6v8h-6zM1033 440h6v16h-6zM1049 422h6v23h-6zM1073 424h6v10h-6zM1081 418h6v5h-6zM1089 400h6v17h-6zM1105 398h6v8h-6zM1113 375h6v21h-6zM1129 351h6v33h-6zM1136 298h6v52h-6zM1144 226h6v72h-6zM1152 205h6v21h-6zM1176 306h6v16h-6zM1184 276h6v29h-6zM1216 338h6v42h-6zM1224 306h6v31h-6zM1240 310h6v13h-6zM1280 370h6v32h-6zM1304 437h6v5h-6zM1320 416h6v23h-6zM1336 390h6v27h-6zM1352 381h6v28h-6zM1360 375h6v5h-6zM1376 360h6v22h-6zM1407 386h6v16h-6zM1415 380h6v6h-6zM1423 365h6v18h-6zM1439 348h6v34h-6zM1447 336h6v12h-6zM1455 295h6v41h-6zM1479 302h6v24h-6zM1503 316h6v8h-6zM1519 320h6v7h-6zM1527 313h6v6h-6zM1543 310h6v8h-6zM1551 302h6v8h-6zM1559 280h6v21h-6zM1567 276h6v5h-6zM1591 298h6v63h-6zM1630 336h6v5h-6zM1646 364h6v5h-6zM1662 344h6v23h-6zM1670 331h6v14h-6zM1694 342h6v7h-6zM1702 299h6v42h-6zM1710 293h6v6h-6zM1718 282h6v11h-6zM1726 264h6v18h-6zM1758 288h6v26h-6zM1782 301h6v11h-6zM1790 284h6v17h-6zM1814 261h6v35h-6zM1822 256h6v5h-6zM1830 247h6v8h-6zM1838 216h6v31h-6zM1854 208h6v39h-6zM1885 216h6v10h-6zM1893 212h6v5h-6zM1925 296h6v12h-6zM1957 359h6v22h-6zM1981 422h6v31h-6zM1989 400h6v23h-6zM2013 378h6v39h-6zM2021 350h6v29h-6zM2029 345h6v5h-6zM2045 344h6v5h-6zM2069 344h6v12h-6zM2085 368h6v10h-6zM2093 364h6v2h-6zM2132 360h6v13h-6zM2180 387h6v16h-6zM2204 382h6v11h-6zM2212 375h6v7h-6zM2228 366h6v11h-6zM2260 382h6v19h-6zM2268 368h6v14h-6zM2300 372h6v17h-6zM2348 410h6v14h-6zM2379 476h6v15h-6zM2395 471h6v7h-6zM2427 585h6v19h-6zM2451 707h6v21h-6z" fill="#000"/>
<path d="M23 985h2v2h-2zM39 977h2v2h-2zM47 973h2v1h-2zM79 1000h2v2h-2zM103 1001h2v9h-2zM135 1000h2v3h-2zM166 1006h2v2h-2zM190 1026h2v1h-2zM214 1032h2v4h-2zM222 1026h2v3h-2zM246 1011h2v13h-2zM278 999h2v5h-2zM286 984h2v11h-2zM294 975h2v5h-2zM302 967h2v3h-2zM318 979h2v1h-2zM326 871h2v103h-2zM342 896h2v2h-2zM358 914h2v4h-2zM366 911h2v1h-2zM397 916h2v4h-2zM421 915h2v1h-2zM429 902h2v9h-2zM461 897h2v7h-2zM477 877h2v22h-2zM501 880h2v3h-2zM509 852h2v25h-2zM517 828h2v20h-2zM533 792h2v36h-2zM541 779h2v9h-2zM549 718h2v57h-2zM557 700h2v13h-2zM565 662h2v34h-2zM581 661h2v25h-2zM589 618h2v39h-2zM597 598h2v16h-2zM605 510h2v83h-2zM613 479h2v27h-2zM621 355h2v120h-2zM644 432h2v21h-2zM668 443h2v13h-2zM676 415h2v24h-2zM684 334h2v77h-2zM700 389h2v33h-2zM716 391h2v25h-2zM740 400h2v23h-2zM756 460h2v19h-2zM772 454h2v15h-2zM788 463h2v29h-2zM796 434h2v25h-2zM836 456h2v14h-2zM860 492h2v15h-2zM876 481h2v3h-2zM891 470h2v16h-2zM899 458h2v8h-2zM907 450h2v3h-2zM923 442h2v36h-2zM939 459h2v7h-2zM947 445h2v10h-2zM955 416h2v25h-2zM971 400h2v25h-2zM979 372h2v24h-2zM1003 411h2v13h-2zM1019 405h2v4h-2zM1035 442h2v12h-2zM1051 424h2v19h-2zM1075 426h2v6h-2zM1083 420h2v1h-2zM1091 402h2v13h-2zM1107 400h2v4h-2zM1115 377h2v17h-2zM1131 353h2v29h-2zM1138 300h2v48h-2zM1146 228h2v68h-2zM1154 207h2v17h-2zM1178 308h2v12h-2zM1186 278h2v25h-2zM1218 340h2v38h-2zM1226 308h2v27h-2zM1242 312h2v9h-2zM1282 372h2v28h-2zM1306 439h2v1h-2zM1322 418h2v19h-2zM1338 392h2v23h-2zM1354 383h2v24h-2zM1362 377h2v1h-2zM1378 362h2v18h-2zM1409 388h2v12h-2zM1417 382h2v2h-2zM1425 367h2v14h-2zM1441 350h2v30h-2zM1449 338h2v8h-2zM1457 297h2v37h-2zM1481 304h2v20h-2zM1505 318h2v4h-2zM1521 322h2v3h-2zM1529 315h2v2h-2zM1545 312h2v4h-2zM1553 304h2v4h-2zM1561 282h2v17h-2zM1569 278h2v1h-2zM1593 300h2v59h-2zM1632 338h2v1h-2zM1648 366h2v1h-2zM1664 346h2v19h-2zM1672 333h2v10h-2zM1696 344h2v3h-2zM1704 301h2v38h-2zM1712 295h2v2h-2zM1720 284h2v7h-2zM1728 266h2v14h-2zM1760 290h2v22h-2zM1784 303h2v7h-2zM1792 286h2v13h-2zM1816 263h2v31h-2zM1824 258h2v1h-2zM1832 249h2v4h-2zM1840 218h2v27h-2zM1856 210h2v35h-2zM1887 218h2v6h-2zM1895 214h2v1h-2zM1927 298h2v8h-2zM1959 361h2v18h-2zM1983 424h2v27h-2zM1991 402h2v19h-2zM2015 380h2v35h-2zM2023 352h2v25h-2zM2031 347h2v1h-2zM2047 346h2v1h-2zM2071 346h2v8h-2zM2087 370h2v6h-2zM2134 362h2v9h-2zM2182 389h2v12h-2zM2206 384h2v7h-2zM2214 377h2v3h-2zM2230 368h2v7h-2zM2262 384h2v15h-2zM2270 370h2v10h-2zM2302 374h2v13h-2zM2350 412h2v10h-2zM2381 478h2v11h-2zM2397 473h2v3h-2zM2429 587h2v15h-2zM2453 709h2v17h-2z" fill="#fff"/>
<path d="M26 706H2538" stroke="#fff" stroke-width="2" stroke-dasharray="2 4" fill="none" shape-rendering="crispEdges"/>
<text x="2557.0" y="134.1" font-size="24" fill="#131722" font-weight="normal" text-anchor="start" textLength="95.5" lengthAdjust="spacingAndGlyphs">0.50000</text>
<text x="2557.0" y="263.1" font-size="24" fill="#131722" font-weight="normal" text-anchor="start" textLength="95.5" lengthAdjust="spacingAndGlyphs">0.45000</text>
<text x="2557.0" y="392.1" font-size="24" fill="#131722" font-weight="normal" text-anchor="start" textLength="95.5" lengthAdjust="spacingAndGlyphs">0.40000</text>
<text x="2557.0" y="521.1" font-size="24" fill="#131722" font-weight="normal" text-anchor="start" textLength="95.5" lengthAdjust="spacingAndGlyphs">0.35000</text>
<text x="2557.0" y="650.1" font-size="24" fill="#131722" font-weight="normal" text-anchor="start" textLength="95.5" lengthAdjust="spacingAndGlyphs">0.30000</text>
<text x="2557.0" y="779.1" font-size="24" fill="#131722" font-weight="normal" text-anchor="start" textLength="95.5" lengthAdjust="spacingAndGlyphs">0.25000</text>
<text x="2557.0" y="908.1" font-size="24" fill="#131722" font-weight="normal" text-anchor="start" textLength="95.5" lengthAdjust="spacingAndGlyphs">0.20000</text>
<text x="2557.0" y="1037.1" font-size="24" fill="#131722" font-weight="normal" text-anchor="start" textLength="95.5" lengthAdjust="spacingAndGlyphs">0.15000</text>
<text x="2557.0" y="1165.1" font-size="24" fill="#131722" font-weight="normal" text-anchor="start" textLength="95.5" lengthAdjust="spacingAndGlyphs">0.10000</text>
<rect x="2538" y="55" width="151" height="66.5" fill="#fff"/>
<text x="2557.0" y="714.0" font-size="24" fill="#000000" font-weight="normal" text-anchor="start" textLength="96.0" lengthAdjust="spacingAndGlyphs">0.27477</text>
<text x="2557.0" y="741.9" font-size="24" fill="#3e3e3e" font-weight="normal" text-anchor="start" textLength="103.0" lengthAdjust="spacingAndGlyphs">03:44:40</text>
<path d="M2540 266h120a4 4 0 0 1 4 4v26a4 4 0 0 1 -4 4h-120z" fill="#2962ff"/>
<text x="2557.0" y="291.5" font-size="24" fill="#ffffff" font-weight="normal" text-anchor="start" textLength="95.5" lengthAdjust="spacingAndGlyphs">0.43889</text>
<path d="M2540 519h120a4 4 0 0 1 4 4v26a4 4 0 0 1 -4 4h-120z" fill="#2962ff"/>
<text x="2557.0" y="544.5" font-size="24" fill="#ffffff" font-weight="normal" text-anchor="start" textLength="95.5" lengthAdjust="spacingAndGlyphs">0.34049</text>
<path d="M2540 832h120a4 4 0 0 1 4 4v26a4 4 0 0 1 -4 4h-120z" fill="#f23645"/>
<text x="2557.0" y="857.5" font-size="24" fill="#ffffff" font-weight="normal" text-anchor="start" textLength="95.5" lengthAdjust="spacingAndGlyphs">0.21936</text>
<path d="M2540 1031h120a4 4 0 0 1 4 4v26a4 4 0 0 1 -4 4h-120z" fill="#f23645"/>
<text x="2557.0" y="1056.5" font-size="24" fill="#ffffff" font-weight="normal" text-anchor="start" textLength="95.5" lengthAdjust="spacingAndGlyphs">0.14219</text>
<rect x="2546.5" y="62.5" width="135" height="51" rx="9" fill="#fff" stroke="#e0e3eb" stroke-width="2"/>
<text x="2565.5" y="97.0" font-size="27.5" fill="#131722" font-weight="normal" text-anchor="start" textLength="72.0" lengthAdjust="spacingAndGlyphs">USDT</text>
<text x="95.5" y="1208.0" font-size="24" fill="#131722" font-weight="bold" text-anchor="middle" textLength="45.3" lengthAdjust="spacingAndGlyphs">Nov</text>
<text x="287.0" y="1208.0" font-size="24" fill="#131722" font-weight="normal" text-anchor="middle" textLength="14.7" lengthAdjust="spacingAndGlyphs">5</text>
<text x="574.3" y="1208.0" font-size="24" fill="#131722" font-weight="normal" text-anchor="middle" textLength="27.4" lengthAdjust="spacingAndGlyphs">11</text>
<text x="741.0" y="1208.0" font-size="24" fill="#131722" font-weight="normal" text-anchor="middle" textLength="66.1" lengthAdjust="spacingAndGlyphs">13:00</text>
<text x="908.6" y="1208.0" font-size="24" fill="#131722" font-weight="normal" text-anchor="middle" textLength="29.4" lengthAdjust="spacingAndGlyphs">18</text>
<text x="1076.8" y="1208.0" font-size="24" fill="#131722" font-weight="normal" text-anchor="middle" textLength="66.1" lengthAdjust="spacingAndGlyphs">13:00</text>
<text x="1244.0" y="1208.0" font-size="24" fill="#131722" font-weight="normal" text-anchor="middle" textLength="29.4" lengthAdjust="spacingAndGlyphs">25</text>
<text x="1530.0" y="1208.0" font-size="24" fill="#131722" font-weight="bold" text-anchor="middle" textLength="44.0" lengthAdjust="spacingAndGlyphs">Dec</text>
<text x="1720.7" y="1208.0" font-size="24" fill="#131722" font-weight="normal" text-anchor="middle" textLength="14.7" lengthAdjust="spacingAndGlyphs">5</text>
<text x="1911.8" y="1208.0" font-size="24" fill="#131722" font-weight="normal" text-anchor="middle" textLength="14.7" lengthAdjust="spacingAndGlyphs">9</text>
<text x="2079.7" y="1208.0" font-size="24" fill="#131722" font-weight="normal" text-anchor="middle" textLength="66.1" lengthAdjust="spacingAndGlyphs">13:00</text>
<text x="2247.0" y="1208.0" font-size="24" fill="#131722" font-weight="normal" text-anchor="middle" textLength="29.4" lengthAdjust="spacingAndGlyphs">16</text>
<text x="2438.2" y="1208.0" font-size="24" fill="#131722" font-weight="normal" text-anchor="middle" textLength="29.4" lengthAdjust="spacingAndGlyphs">20</text>
<text x="36.0" y="94.3" font-size="24" fill="#131722" font-weight="normal" text-anchor="start" textLength="393.6" lengthAdjust="spacingAndGlyphs">Dogecoin / TetherUS, 4h, BINANCE</text>
<text x="444.9" y="94.3" font-size="24" fill="#131722" font-weight="normal" text-anchor="start" textLength="112.8" lengthAdjust="spacingAndGlyphs">O0.26639</text>
<text x="572.8" y="94.3" font-size="24" fill="#131722" font-weight="normal" text-anchor="start" textLength="110.2" lengthAdjust="spacingAndGlyphs">H0.27545</text>
<text x="699.4" y="94.3" font-size="24" fill="#131722" font-weight="normal" text-anchor="start" textLength="107.2" lengthAdjust="spacingAndGlyphs">L0.26509</text>
<text x="822.1" y="94.3" font-size="24" fill="#131722" font-weight="normal" text-anchor="start" textLength="105.8" lengthAdjust="spacingAndGlyphs">C0.27477</text>
<text x="943.4" y="94.3" font-size="24" fill="#131722" font-weight="normal" text-anchor="start" textLength="217.5" lengthAdjust="spacingAndGlyphs">+0.00838 (+3.15%)</text>
<text x="1177.0" y="94.3" font-size="24" fill="#131722" font-weight="normal" text-anchor="start" textLength="135.1" lengthAdjust="spacingAndGlyphs">Vol166.33 M</text>
<text x="36.0" y="128.1" font-size="24" fill="#131722" font-weight="normal" text-anchor="start" textLength="223.5" lengthAdjust="spacingAndGlyphs">EMA 20/50/100/200</text>
<text x="274.8" y="128.1" font-size="24" fill="#ff0000" font-weight="normal" text-anchor="start" textLength="95.0" lengthAdjust="spacingAndGlyphs">0.34365</text>
<text x="384.2" y="128.1" font-size="24" fill="#ff7f00" font-weight="normal" text-anchor="start" textLength="91.7" lengthAdjust="spacingAndGlyphs">0.37482</text>
<text x="491.1" y="128.1" font-size="24" fill="#00ffff" font-weight="normal" text-anchor="start" textLength="94.3" lengthAdjust="spacingAndGlyphs">0.39032</text>
<text x="599.3" y="128.1" font-size="24" fill="#0000ff" font-weight="normal" text-anchor="start" textLength="92.4" lengthAdjust="spacingAndGlyphs">0.37726</text>
<text x="19.8" y="40.1" font-size="24" fill="#d1d4dc" font-weight="normal" text-anchor="start" textLength="808.0" lengthAdjust="spacingAndGlyphs">BeInCrypto1 published on TradingView.com, Dec 20, 2024 09:15 UTC-3</text>
<path d="M20 1250.1H35.3V1269.5H27.6V1257.9H20Z" fill="#d1d4dc"/>
<circle cx="42.2" cy="1254.6" r="4.3" fill="#d1d4dc"/>
<path d="M50.2 1250.1H59.3L50.5 1269.5H42.2Z" fill="#d1d4dc"/>
<text stroke="#d1d4dc" stroke-width="0.7" x="67.0" y="1271.0" font-size="26" fill="#d1d4dc" font-weight="normal" text-anchor="start" textLength="147.7" lengthAdjust="spacingAndGlyphs">TradingView</text>
</svg></body></html>
